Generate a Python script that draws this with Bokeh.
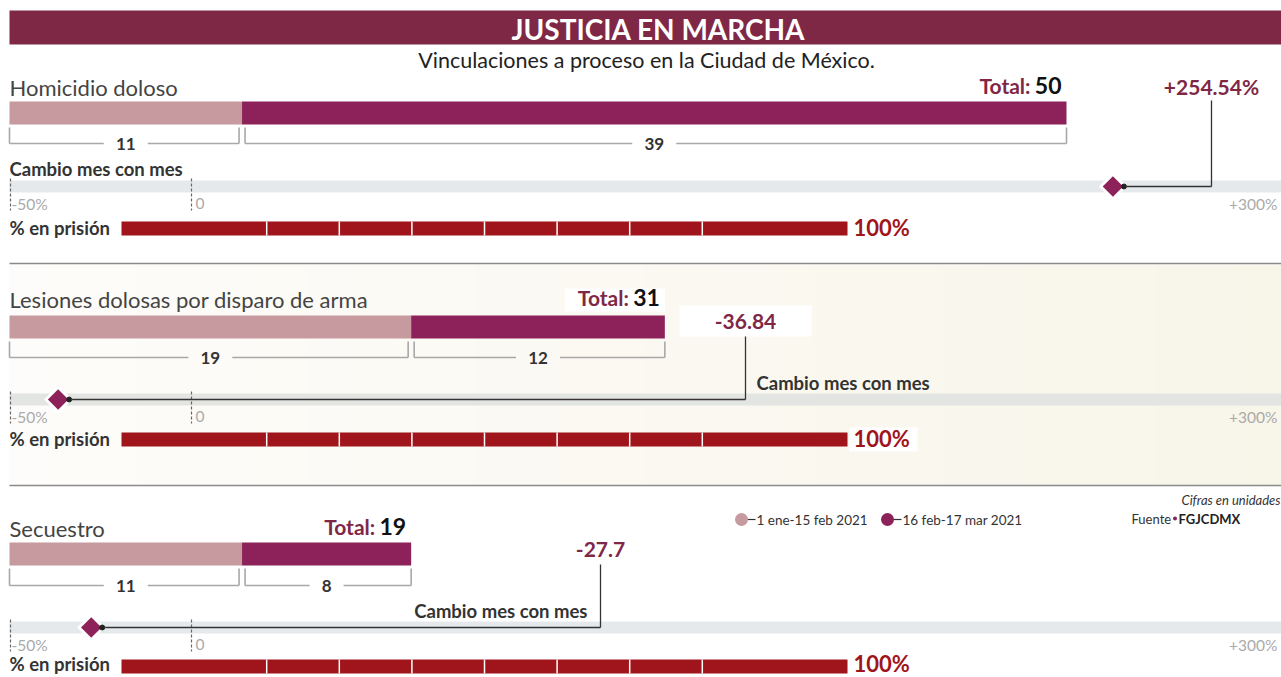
import math
from bokeh.plotting import figure
from bokeh.models import Range1d
from bokeh.core.properties import value
from bokeh.embed import file_html
from bokeh.resources import INLINE

# ---------------- data ----------------
crimes = ["Homicidio doloso", "Lesiones dolosas por disparo de arma", "Secuestro"]
period1 = [11, 19, 11]          # 1 ene-15 feb 2021
period2 = [39, 12, 8]           # 16 feb-17 mar 2021
totals = [50, 31, 19]
cambio = [254.54, -36.84, -27.7]
cambio_labels = ["+254.54%", "-36.84", "-27.7"]
prision = [100, 100, 100]
legend_labels = ["1 ene-15 feb 2021", "16 feb-17 mar 2021"]
pct_ticks = [-50, 0, 300]
pct_tick_labels = ["-50%", "0", "+300%"]
prision_seps = [20, 30, 40, 50, 60, 70, 80]

# ---------------- styles / layout ----------------
FONT = value("Lato")
MAROON = "#7f2846"
LIGHT = "#c69a9e"
DARK = "#8c2259"
RED = "#a0151b"
TXT = "#333333"

W, H = 1281, 677
X0, X1 = 0, W          # page coordinates
Y0, Y1 = 0, H

COUNT0, COUNT_PX = 9, 21.14     # scale of the count bars
PCT0, PCT_PX = 191, 3.62        # scale of the month change track
PRIS0, PRIS_PX = 121, 7.26      # scale of % in prison

name_y = [87, 299, 528]
bar_y = [112.5, 326.5, 553.5]
bracket_y = [143, 357, 585]
tick_top = [127, 341, 568]
track_y = [186, 399, 627]
ticklbl_y = [203, 416, 644]
pris_y = [228, 439, 666]
pris_lbl_y = [227, 438, 663]
call_x = [1211, 745, 600]
call_y = [86, 321, 549]
call_bottom = [100, 336, 564]
cm_title = [(9, 168, "left"), (756, 382, "left"), (587, 610, "right")]

p = figure(width=W, height=H, output_backend="svg", toolbar_location=None,
           x_range=Range1d(X0, X1), y_range=Range1d(Y1, Y0),
           min_border=0, outline_line_color=None)
p.axis.visible = False
p.grid.visible = False
p.background_fill_color = "white"
p.border_fill_color = "white"
p.extra_x_ranges = {
    "count": Range1d((X0 - COUNT0) / COUNT_PX, (X1 - COUNT0) / COUNT_PX),
    "pct": Range1d((X0 - PCT0) / PCT_PX, (X1 - PCT0) / PCT_PX),
    "pris": Range1d((X0 - PRIS0) / PRIS_PX, (X1 - PRIS0) / PRIS_PX),
}

# ---- section 2 cream background (gradient strips) ----
n = 30
lefts, rights, cols = [], [], []
for k in range(n):
    t = k / (n - 1)
    r = round(253 - 5 * t); g = round(252 - 7 * t); b = round(250 - 17 * t)
    lefts.append(9 + k * (1281 - 9) / n)
    rights.append(9 + (k + 1) * (1281 - 9) / n + 0.5)
    cols.append("#%02x%02x%02x" % (r, g, b))
p.quad(left=lefts, right=rights, bottom=[485] * n, top=[264] * n, color=cols, line_color=None)

# separators
p.segment(x0=[9, 9], x1=[1281, 1281], y0=[263, 485], y1=[263, 485], line_color="#8a8a8a", line_width=1.5)

# ---- header ----
p.quad(left=[9], right=[1281], top=[10], bottom=[44], color=MAROON, line_color=None)
p.text(x=[658], y=[28], text=["JUSTICIA EN MARCHA"], text_font=FONT, text_font_style="bold",
       text_font_size="28px", text_color="white", text_align="center", text_baseline="middle")
p.text(x=[646], y=[59], text=["Vinculaciones a proceso en la Ciudad de México."], text_font=FONT,
       text_font_size="21.5px", text_color="#222222", text_align="center", text_baseline="middle")

# ---- crime names ----
p.text(x=[9] * 3, y=name_y, text=crimes, text_font=FONT, text_font_size="22px",
       text_color="#444444", text_align="left", text_baseline="middle")

# ---- stacked bars ----
p.hbar(y=bar_y, left=[0] * 3, right=period1, height=23, color=LIGHT, line_color=None, x_range_name="count")
p.hbar(y=bar_y, left=period1, right=totals, height=23, color=DARK, line_color=None, x_range_name="count")

# white box behind total label of section 2
p.quad(left=[totals[1] - 100 / COUNT_PX], right=[totals[1]], top=[288], bottom=[311],
       color="white", line_color=None, x_range_name="count")
num_w = [len(str(t)) * 13 for t in totals]
p.text(x=totals, y=[yy - 2 for yy in name_y], text=[str(t) for t in totals], x_offset=-5,
       text_font=FONT, text_font_style="bold", text_font_size="23px", text_color="#111111",
       text_align="right", text_baseline="middle", x_range_name="count")
p.text(x=totals, y=[yy - 2 for yy in name_y], text=["Total:"] * 3, x_offset=[-10 - w for w in num_w],
       text_font=FONT, text_font_style="bold", text_font_size="21px", text_color=MAROON,
       text_align="right", text_baseline="middle", x_range_name="count")

# ---- brackets ----
g = 3 / COUNT_PX
bx0, bx1, by0, by1 = [], [], [], []
lx, ly, lt = [], [], []
for i in range(3):
    segs = [(0, period1[i], 0, g, period1[i]), (period1[i], totals[i], g, 0, period2[i])]
    for a, b, ga, gb, v in segs:
        l, r = a + ga, b - gb
        c = (a + b) / 2
        hg = (len(str(v)) * 5 + 12) / COUNT_PX
        bx0 += [l, r]; bx1 += [l, r]; by0 += [tick_top[i]] * 2; by1 += [bracket_y[i]] * 2
        bx0 += [l, c + hg]; bx1 += [c - hg, r]; by0 += [bracket_y[i]] * 2; by1 += [bracket_y[i]] * 2
        lx.append(c); ly.append(bracket_y[i]); lt.append(str(v))
p.segment(x0=bx0, x1=bx1, y0=by0, y1=by1, line_color="#a8a8a8", line_width=1.6, x_range_name="count")
p.text(x=lx, y=ly, text=lt, text_font=FONT, text_font_style="bold", text_font_size="17px",
       text_color=TXT, text_align="center", text_baseline="middle", x_range_name="count")

# ---- change track ----
p.quad(left=[9] * 3, right=[1281] * 3, top=[y - 6 for y in track_y], bottom=[y + 6 for y in track_y],
       color=["#e6e9ec", "#e3e5e2", "#e6e9ec"], line_color=None)
dx, dy0, dy1 = [], [], []
for i in range(3):
    for t in pct_ticks[:2]:
        dx.append(t); dy0.append(track_y[i] - 8); dy1.append(ticklbl_y[i] + 7)
p.segment(x0=dx, x1=dx, y0=dy0, y1=dy1, line_color="#666666", line_width=1.2, line_dash="3 2",
          x_range_name="pct")
for t, lab, al, off in zip(pct_ticks, pct_tick_labels, ["left", "left", "right"], [1, 4, 0]):
    p.text(x=[t] * 3, y=ticklbl_y, text=[lab] * 3, x_offset=off, text_font=FONT, text_font_size="15.5px",
           text_color="#aaaaaa", text_align=al, text_baseline="middle", x_range_name="pct")

for (tx, ty, al) in cm_title:
    p.text(x=[tx], y=[ty], text=["Cambio mes con mes"], text_font=FONT, text_font_style="bold",
           text_font_size="18.5px", text_color=TXT, text_align=al, text_baseline="middle")

# callout boxes / connectors
p.quad(left=[call_x[1] - 66], right=[call_x[1] + 66], top=[305], bottom=[336], color="white", line_color=None)
call_pct = [(cx - PCT0) / PCT_PX for cx in call_x]
p.segment(x0=cambio, x1=call_pct, y0=track_y, y1=track_y, line_color="#333333", line_width=1.3,
          x_range_name="pct")
p.segment(x0=call_x, x1=call_x, y0=track_y, y1=call_bottom, line_color="#333333", line_width=1.3)
p.scatter(x=cambio, y=track_y, marker="square", angle=math.pi / 4, size=20, color="white",
          line_color=None, x_range_name="pct")
p.scatter(x=cambio, y=track_y, marker="square", angle=math.pi / 4, size=14.5, color=DARK,
          line_color=None, x_range_name="pct")
p.scatter(x=[c + 11 / PCT_PX for c in cambio], y=track_y, size=5, color="#222222", x_range_name="pct")
p.text(x=call_x, y=call_y, text=cambio_labels, text_font=FONT, text_font_style="bold",
       text_font_size="21px", text_color=MAROON, text_align="center", text_baseline="middle")

# ---- % en prisión ----
p.text(x=[9] * 3, y=pris_lbl_y, text=["% en prisión"] * 3, text_font=FONT, text_font_style="bold",
       text_font_size="18.5px", text_color=TXT, text_align="left", text_baseline="middle")
p.hbar(y=pris_y, left=[0] * 3, right=prision, height=14, color=RED, line_color=None, x_range_name="pris")
sx, sy0, sy1 = [], [], []
for i in range(3):
    for s in prision_seps:
        sx.append(s); sy0.append(pris_y[i] - 7); sy1.append(pris_y[i] + 7)
p.segment(x0=sx, x1=sx, y0=sy0, y1=sy1, line_color="white", line_width=1.5, x_range_name="pris")
p.quad(left=[prision[1] + 2 / PRIS_PX], right=[prision[1] + 70 / PRIS_PX], top=[pris_y[1] - 12],
       bottom=[pris_y[1] + 12], color="white", line_color=None, x_range_name="pris")
p.text(x=prision, y=pris_lbl_y, text=["%d%%" % v for v in prision], x_offset=6, text_font=FONT,
       text_font_style="bold", text_font_size="22px", text_color=RED, text_align="left",
       text_baseline="middle", x_range_name="pris")

# ---- legend / notes ----
p.segment(x0=[741, 887], x1=[755, 901], y0=[519, 519], y1=[519, 519], line_color="#333333", line_width=1.2)
p.scatter(x=[741, 887], y=[519, 519], size=13, color=[LIGHT, DARK], line_color=None)
p.text(x=[756, 902], y=[519, 519], text=legend_labels, text_font=FONT, text_font_size="13.5px",
       text_color=TXT, text_align="left", text_baseline="middle")
p.text(x=[1280], y=[499], text=["Cifras en unidades"], text_font=FONT, text_font_style="italic",
       text_font_size="13px", text_color=TXT, text_align="right", text_baseline="middle")
p.text(x=[1131], y=[518], text=["Fuente"], text_font=FONT, text_font_size="13px",
       text_color=TXT, text_align="left", text_baseline="middle")
p.scatter(x=[1174.5], y=[518], size=4, color=DARK, line_color=None)
p.text(x=[1178], y=[518], text=["FGJCDMX"], text_font=FONT, text_font_style="bold",
       text_font_size="13px", text_color="#222222", text_align="left", text_baseline="middle")

open("out.html", "w").write(file_html(p, INLINE))
